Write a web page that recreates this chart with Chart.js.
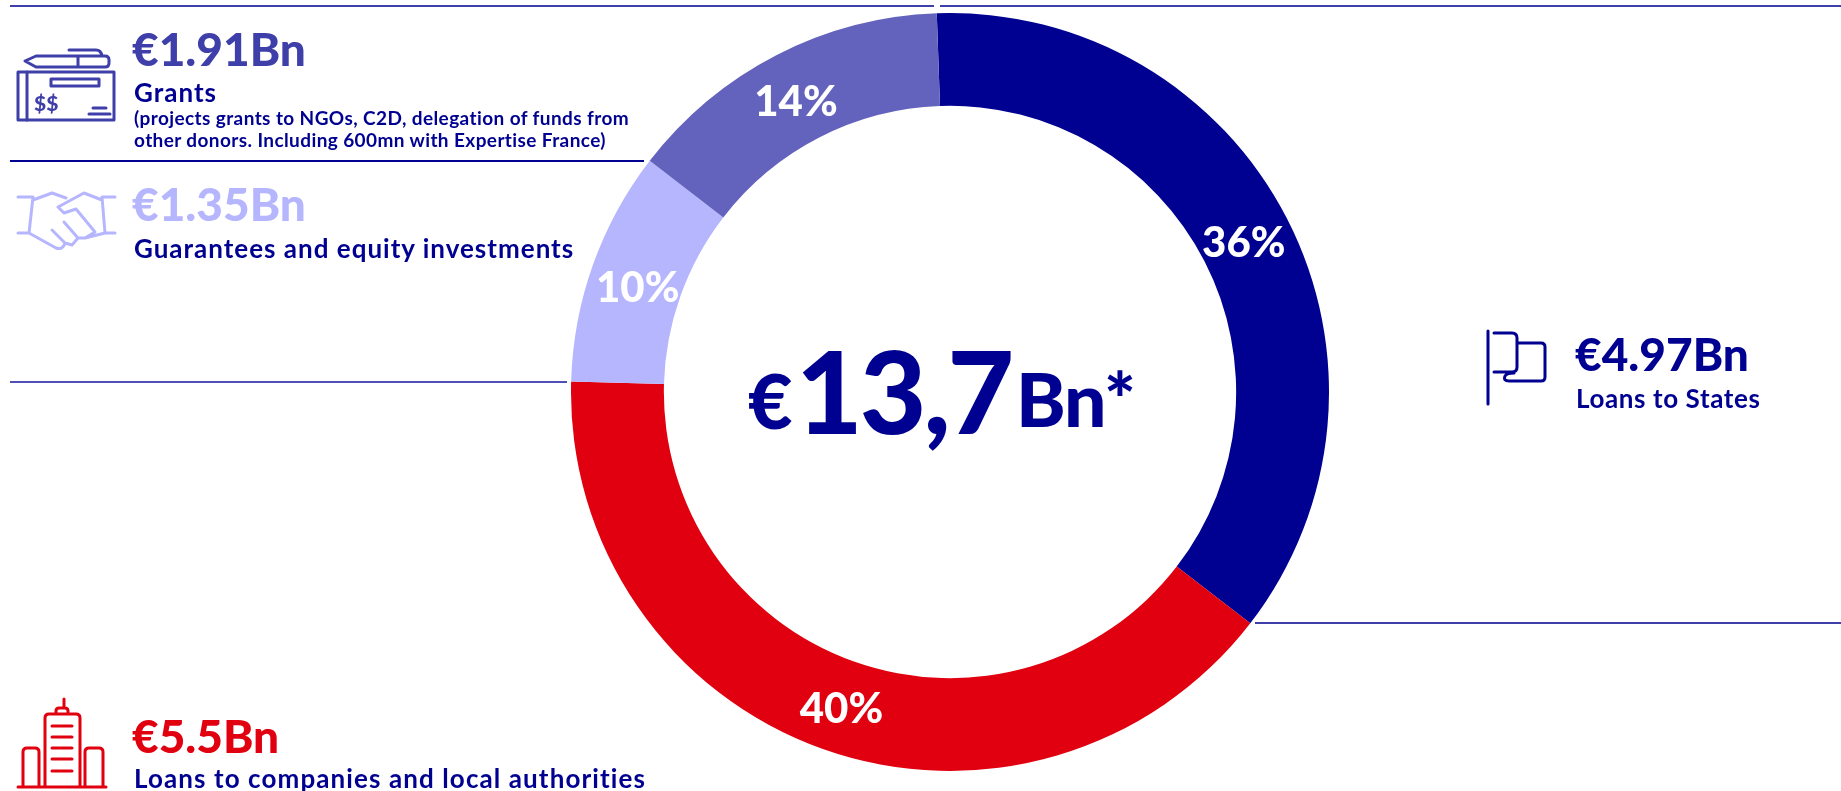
<!DOCTYPE html>
<html>
<head>
<meta charset="utf-8">
<title>€13,7Bn</title>
<script src="https://cdn.jsdelivr.net/npm/chart.js@4"></script>
<style>
  html, body { margin: 0; padding: 0; background: #fff; overflow: hidden; }
  #page { position: relative; width: 1841px; height: 791px; font-family: Lato, sans-serif; font-weight: 700; color: #000091; overflow: hidden; }
  #chartBox { position: absolute; left: 571px; top: 13px; width: 758px; height: 758px; }
  .t { position: absolute; white-space: nowrap; line-height: 1; }
  .amount { font-size: 46px; font-weight: 900; letter-spacing: 0; }
  .label { font-size: 26px; letter-spacing: 1px; }
  .note { font-size: 19px; letter-spacing: 0.4px; }
  .rule { position: absolute; height: 1.5px; }
  #icons { position: absolute; left: 0; top: 0; fill: none; stroke-width: 3; stroke-linecap: round; stroke-linejoin: round; }
</style>
</head>
<body>
<div id="page">
  <div id="chartBox"><canvas id="chart" width="758" height="758"></canvas></div>

  <div class="rule" style="left:10px;top:5px;width:924px;background:#3f3fa9"></div>
  <div class="rule" style="left:940px;top:5px;width:901px;background:#3f3fa9"></div>
  <div class="rule" style="left:10px;top:160px;width:634px;background:#000091"></div>
  <div class="rule" style="left:10px;top:381px;width:557px;background:#4f4fb5"></div>
  <div class="rule" style="left:1255px;top:622px;width:586px;background:#3f3fa9"></div>

  <svg id="icons" width="1841" height="791">
    <!-- cheque -->
    <g stroke="#3f3fa9">
      <path d="M25 61 L36 56 H105 Q109 56 109 60 V63 Q109 67 105 67 H36 Z M78 56 V67 M69 50 H96 Q101 50 102 56"/>
      <rect x="18" y="72" width="96" height="48"/>
      <path d="M27 72 V120 M51 79 H99 V86 H51 Z M93 108 H106 M89 114 H110"/>
      <text x="34" y="111" font-size="21" font-weight="900" fill="#3f3fa9" stroke="none" font-family="Lato">$$</text>
    </g>
    <!-- handshake -->
    <g stroke="#b6b6ff">
      <path d="M18 197 H33 L29 233 H18 M115 197 H102 L105 233 H115 M33 200 L52 193 L66 198 M102 200 L84 193 L58 207 L64 213 L76 209 L95 232 L85 238 M29 233 L56 248 Q63 250 65 243 L72 245 L78 238 L85 238 L105 233 M52 230 L65 243 M64 222 L78 238"/>
    </g>
    <!-- flag -->
    <g stroke="#000091">
      <path d="M1488 331 V404 M1494 333 H1512 Q1517 333 1517 338 V367 Q1517 372 1512 372 H1494 M1517 343 H1541 Q1545 343 1545 347 V377 Q1545 381 1541 381 H1509 Q1503 381 1505 376 Q1507 373 1514 373"/>
    </g>
    <!-- buildings -->
    <g stroke="#e1000f">
      <path d="M45 786 V718 Q45 714 49 714 H76 Q80 714 80 718 V786 M56 714 V711 Q56 708 59 708 H65 Q68 708 68 711 V714 M64 699 V708 M23 786 V752 Q23 748 27 748 H35 Q39 748 39 752 V786 M85 786 V752 Q85 748 89 748 H99 Q103 748 103 752 V786 M18 787 H106 M52 726 H72 M52 737 H72 M52 748 H72 M52 759 H72 M52 771 H72"/>
    </g>
  </svg>

  <span class="t" style="left:748px;top:361px;font-size:77px;font-weight:900">€</span>
  <span class="t" style="left:796px;top:332px;font-size:115px;font-weight:900;letter-spacing:-3px">13,7</span>
  <span class="t" style="left:1016px;top:361px;font-size:75px;font-weight:900;letter-spacing:-1px">Bn*</span>

  <span class="t amount" id="amt3" style="left:132px;top:26px;color:#3f3fa9"></span>
  <span class="t label" id="cat3" style="left:134px;top:79px"></span>
  <span class="t note" id="note1" style="left:134px;top:108px"></span>
  <span class="t note" id="note2" style="left:134px;top:130px"></span>

  <span class="t amount" id="amt2" style="left:132px;top:181px;color:#b6b6ff"></span>
  <span class="t label" id="cat2" style="left:134px;top:235px"></span>

  <span class="t amount" id="amt0" style="left:1575px;top:331px"></span>
  <span class="t label" id="cat0" style="left:1576px;top:385px;letter-spacing:0.6px"></span>

  <span class="t amount" id="amt1" style="left:132px;top:713px;color:#e1000f"></span>
  <span class="t label" id="cat1" style="left:134px;top:765px;letter-spacing:1.1px"></span>
</div>

<script>
const categories = ['Loans to States', 'Loans to companies and local authorities', 'Guarantees and equity investments', 'Grants'];
const sharePercent = [36, 40, 10, 14];
const amountLabels = ['€4.97Bn', '€5.5Bn', '€1.35Bn', '€1.91Bn'];
const percentLabels = ['36%', '40%', '10%', '14%'];
const sliceColors = ['#000091', '#e1000f', '#b6b6ff', '#6363be'];
const grantNotes = ['(projects grants to NGOs, C2D, delegation of funds from', 'other donors. Including 600mn with Expertise France)'];

categories.forEach((c, i) => {
  document.getElementById('cat' + i).textContent = c;
  document.getElementById('amt' + i).textContent = amountLabels[i];
});
document.getElementById('note1').textContent = grantNotes[0];
document.getElementById('note2').textContent = grantNotes[1];

// percent labels sit near the middle of each arc, nudged a little by hand
const sliceLabels = {
  id: 'sliceLabels',
  afterDatasetsDraw(chart) {
    const { ctx } = chart;
    const nudge = [[-2, 3], [3, 4], [1, 8], [-2, 6]];
    ctx.save();
    ctx.fillStyle = '#fff';
    ctx.font = '900 42px Lato';
    ctx.textAlign = 'center';
    ctx.textBaseline = 'middle';
    chart.getDatasetMeta(0).data.forEach((arc, i) => {
      const p = arc.tooltipPosition();
      ctx.fillText(percentLabels[i], p.x + nudge[i][0], p.y + nudge[i][1]);
    });
    ctx.restore();
  }
};

new Chart(document.getElementById('chart'), {
  type: 'doughnut',
  data: {
    labels: categories,
    datasets: [{ data: sharePercent, backgroundColor: sliceColors, borderWidth: 0 }]
  },
  options: {
    responsive: false,
    animation: false,
    rotation: -2,
    cutout: '75.5%',
    plugins: { legend: { display: false }, tooltip: { enabled: false } },
    events: []
  },
  plugins: [sliceLabels]
});
</script>
</body>
</html>
